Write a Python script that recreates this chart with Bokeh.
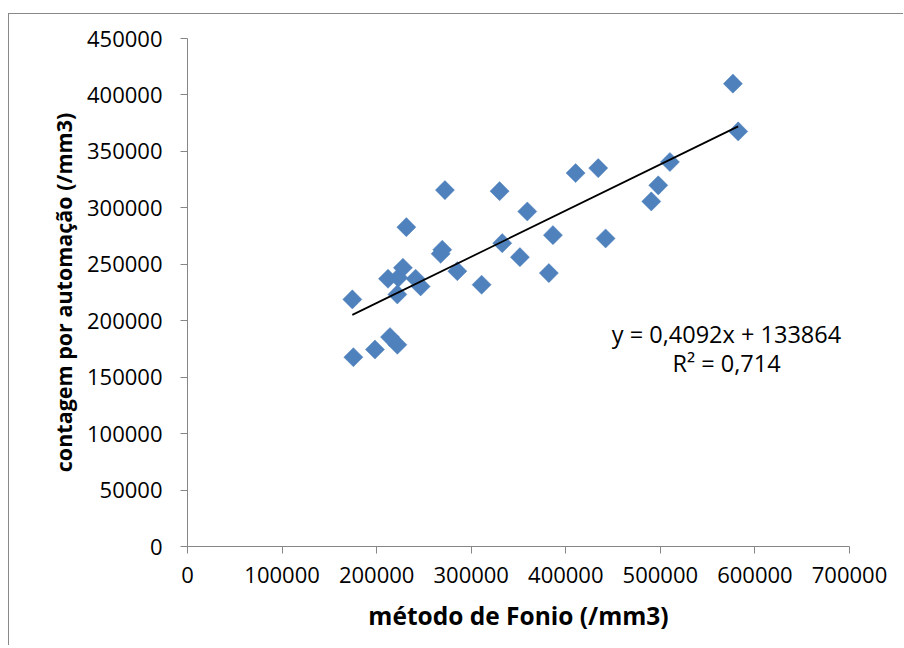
import numpy as np
from bokeh.plotting import figure
from bokeh.models import Range1d, Label, FixedTicker, ColumnDataSource
from bokeh.embed import file_html
from bokeh.resources import INLINE

# data
fonio = [174300, 175400, 198200, 214100, 221900, 221900, 212000, 222900, 227800,
         241200, 246500, 231400, 272200, 269400, 267700, 285300, 311000, 330000,
         332800, 359300, 351500, 386400, 382100, 442100, 410400, 434300, 490400,
         497800, 510100, 576700, 582300]
automacao = [218900, 167700, 174500, 185500, 178700, 223300, 237200, 238100, 246900,
             237200, 230400, 282900, 315700, 262900, 259300, 243900, 231900, 314800,
             268700, 296800, 256300, 275800, 242200, 272900, 330800, 335200, 305700,
             319900, 340600, 410000, 367700]
slope = 0.4092
intercept = 133864
eq_text = "y = 0,4092x + 133864"
r2_text = "R² = 0,714"
x_ticks = [0, 100000, 200000, 300000, 400000, 500000, 600000, 700000]
y_ticks = [0, 50000, 100000, 150000, 200000, 250000, 300000, 350000, 400000, 450000]
x_title = "método de Fonio (/mm3)"
y_title = "contagem por automação (/mm3)"

FONT = "Open Sans"
AXC = "#868686"

p = figure(width=895, height=632, output_backend="svg", toolbar_location=None,
           x_range=Range1d(0, 700000), y_range=Range1d(0, 450000),
           min_border_left=178, min_border_right=55, min_border_top=24, min_border_bottom=100)
p.styles = {"margin-left": "8px", "margin-top": "13px",
            "border-left": "1px solid #898989", "border-top": "1px solid #898989"}
p.outline_line_color = None
p.xgrid.visible = False
p.ygrid.visible = False
p.background_fill_color = "white"
p.border_fill_color = "white"

for ax, ticks in ((p.xaxis[0], x_ticks), (p.yaxis[0], y_ticks)):
    ax.ticker = FixedTicker(ticks=ticks)
    ax.minor_tick_line_color = None
    ax.axis_line_color = AXC
    ax.major_tick_line_color = AXC
    ax.major_tick_out = 7
    ax.major_tick_in = 0
    ax.major_label_text_font = FONT
    ax.major_label_text_font_size = "22px"
    ax.major_label_text_color = "black"
    ax.axis_label_text_font = FONT
    ax.axis_label_text_font_style = "bold"
    ax.axis_label_text_color = "black"

p.xaxis[0].major_label_overrides = {t: str(t) for t in x_ticks}
p.yaxis[0].major_label_overrides = {t: str(t) for t in y_ticks}
p.xaxis[0].major_label_standoff = 13
p.yaxis[0].major_label_standoff = 18
p.xaxis[0].axis_label = x_title
p.yaxis[0].axis_label = y_title
p.xaxis[0].axis_label_text_font_size = "24.5px"
p.yaxis[0].axis_label_text_font_size = "21.5px"
p.xaxis[0].axis_label_standoff = 13
p.yaxis[0].axis_label_standoff = 6

src = ColumnDataSource(dict(x=fonio, y=automacao))
p.scatter("x", "y", source=src, marker="square", size=13.5, angle=np.pi / 4,
          fill_color="#4F81BD", line_color="#4F81BD", line_width=0.5)

xmin, xmax = min(fonio), max(fonio)
p.line([xmin, xmax], [slope * xmin + intercept, slope * xmax + intercept],
       line_color="black", line_width=1.75)

p.add_layout(Label(x=539, y=213, x_units="screen", y_units="screen", text=eq_text,
                   text_align="center", text_baseline="alphabetic", text_font=FONT,
                   text_font_size="23.5px", text_color="black"))
p.add_layout(Label(x=539, y=184, x_units="screen", y_units="screen", text=r2_text,
                   text_align="center", text_baseline="alphabetic", text_font=FONT,
                   text_font_size="23.5px", text_color="black"))

open("out.html", "w").write(file_html(p, INLINE))
